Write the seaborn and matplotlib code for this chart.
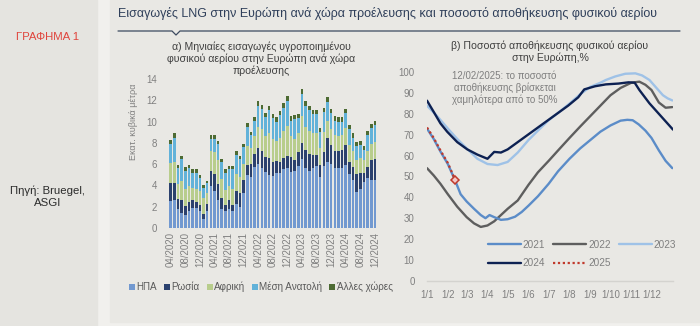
import numpy as np
import pandas as pd
import matplotlib
matplotlib.use("Agg")
import matplotlib.pyplot as plt
from matplotlib.patches import Patch, Rectangle
from matplotlib.lines import Line2D
import seaborn as sns

# ---------------- data: left chart (monthly LNG imports, bcm) ----------------
months = ["04/2020", "05/2020", "06/2020", "07/2020", "08/2020", "09/2020", "10/2020", "11/2020", "12/2020",
          "01/2021", "02/2021", "03/2021", "04/2021", "05/2021", "06/2021", "07/2021", "08/2021", "09/2021",
          "10/2021", "11/2021", "12/2021", "01/2022", "02/2022", "03/2022", "04/2022", "05/2022", "06/2022",
          "07/2022", "08/2022", "09/2022", "10/2022", "11/2022", "12/2022", "01/2023", "02/2023", "03/2023",
          "04/2023", "05/2023", "06/2023", "07/2023", "08/2023", "09/2023", "10/2023", "11/2023", "12/2023",
          "01/2024", "02/2024", "03/2024", "04/2024", "05/2024", "06/2024", "07/2024", "08/2024", "09/2024",
          "10/2024", "11/2024", "12/2024"]
usa = [2.5, 2.6, 1.8, 1.4, 1.2, 1.6, 1.9, 1.9, 1.6, 0.8, 1.6, 3.9, 3.5, 2.6, 1.8, 1.6, 1.8, 1.6, 2.3, 2.0, 3.3,
       5.0, 4.8, 5.7, 6.0, 5.6, 5.3, 5.0, 4.9, 5.2, 5.2, 5.5, 5.6, 5.3, 5.4, 5.8, 6.5, 5.6, 5.4, 5.6, 5.8, 4.8,
       5.8, 6.2, 6.0, 5.6, 5.6, 5.6, 5.9, 5.1, 4.5, 3.4, 3.7, 4.3, 4.7, 4.5, 4.5]
russia = [1.7, 1.6, 0.9, 1.2, 0.9, 0.8, 0.7, 0.5, 0.6, 0.5, 0.7, 1.5, 1.6, 1.5, 1.0, 0.6, 0.8, 0.6, 1.2, 1.3, 1.2,
          0.9, 1.2, 1.3, 1.5, 1.6, 1.4, 1.6, 1.3, 1.1, 1.0, 1.1, 1.2, 1.4, 1.0, 1.3, 1.5, 1.7, 1.6, 1.3, 1.1, 1.1,
          1.3, 2.3, 1.8, 1.6, 1.6, 1.7, 1.9, 1.1, 1.2, 1.7, 1.5, 0.9, 1.0, 1.9, 2.0]
africa = [1.9, 2.0, 1.4, 1.8, 1.6, 1.5, 1.2, 1.3, 1.3, 1.5, 1.0, 1.8, 2.0, 2.3, 1.8, 1.4, 1.3, 1.5, 1.6, 1.5, 1.5,
          1.8, 1.5, 1.6, 2.0, 2.1, 1.9, 2.3, 2.2, 1.9, 2.3, 2.5, 2.8, 1.9, 2.0, 1.8, 2.5, 2.2, 2.1, 2.0, 2.0, 1.6,
          1.9, 1.6, 1.5, 1.5, 1.4, 1.4, 1.6, 1.6, 1.5, 1.3, 1.4, 1.2, 1.5, 1.5, 1.6]
middle_east = [1.8, 2.3, 1.5, 2.05, 1.7, 1.7, 1.4, 1.5, 1.2, 1.0, 0.9, 1.2, 1.3, 1.5, 1.6, 1.6, 1.6, 1.8, 1.8, 1.7,
               1.6, 1.8, 1.2, 1.46, 2.0, 1.86, 1.8, 2.2, 1.9, 1.8, 2.1, 2.2, 2.3, 1.5, 1.8, 1.4, 2.1, 2.0, 2.0, 1.8,
               1.8, 1.5, 1.9, 1.7, 1.5, 1.4, 1.4, 1.3, 1.4, 1.5, 1.3, 1.3, 1.2, 0.9, 1.5, 1.5, 1.6]
others = [0.4, 0.4, 0.3, 0.35, 0.3, 0.3, 0.3, 0.3, 0.3, 0.2, 0.2, 0.3, 0.3, 0.3, 0.3, 0.3, 0.3, 0.3, 0.3, 0.3, 0.3,
          0.4, 0.35, 0.4, 0.4, 0.4, 0.4, 0.4, 0.4, 0.4, 0.4, 0.4, 0.5, 0.4, 0.4, 0.4, 0.5, 0.4, 0.4, 0.4, 0.4, 0.4,
          0.4, 0.5, 0.4, 0.4, 0.4, 0.4, 0.4, 0.4, 0.4, 0.4, 0.4, 0.4, 0.4, 0.4, 0.4]
source_names = ["ΗΠΑ", "Ρωσία", "Αφρική", "Μέση Ανατολή", "Άλλες χώρες"]

# ---------------- data: right chart (storage %, by day of year) ----------------
days_2021 = [0, 10, 20, 31, 42, 50, 59, 70, 80, 87, 93, 100, 110, 120, 131, 141, 151, 165, 181, 195, 212, 228, 243,
             258, 273, 288, 298, 306, 315, 325, 334, 345, 355, 365]
pct_2021 = [73, 68, 62, 56, 48, 41.5, 38, 34.5, 31.5, 30, 31.5, 30.5, 29.2, 29.5, 30.7, 33, 36, 40.5, 46.5, 52.5,
            58.5, 63.5, 67.5, 71.5, 74.5, 76.8, 77.2, 77, 75, 72, 68.5, 62.5, 57.5, 54]
days_2022 = [0, 10, 20, 31, 45, 59, 70, 80, 90, 100, 110, 120, 135, 151, 165, 181, 195, 212, 228, 243, 258, 273,
             288, 304, 316, 325, 334, 345, 355, 365]
pct_2022 = [54, 50.5, 46.5, 41.5, 35.5, 30.5, 27.5, 25.8, 26.5, 28.5, 31.5, 34.5, 38.5, 46, 52, 57.5, 62.5, 68.5,
            74, 79, 84, 89, 92.5, 95, 95.5, 94, 91.5, 85.5, 83, 83.3]
days_2023 = [0, 15, 31, 45, 59, 75, 90, 105, 120, 135, 151, 165, 181, 195, 212, 228, 243, 258, 266, 280, 295, 310,
             320, 331, 340, 351, 358, 365]
pct_2023 = [84, 79, 73, 68, 63.5, 58.5, 56, 55.5, 57, 61.5, 67.5, 72, 77, 80.5, 85, 89.5, 93, 95, 96.3, 98, 99.3,
            99.5, 98.5, 96.3, 93, 89, 87.5, 86.5]
days_2024 = [0, 10, 20, 30, 45, 60, 75, 90, 100, 110, 120, 135, 150, 165, 180, 195, 210, 225, 234, 250, 266, 285,
             300, 309, 316, 331, 341, 351, 366]
pct_2024 = [86.4, 81, 75.5, 71.5, 66.5, 63, 60.5, 58.5, 61.8, 61.5, 63, 66.5, 70, 73.5, 77, 80.5, 84, 88, 91.8,
            93.3, 94.2, 94.6, 95.2, 95, 91.5, 85.1, 81.5, 77.9, 72.5]
days_2025 = [0, 10, 20, 31, 42]
pct_2025 = [73.5, 68.5, 62.5, 56.5, 48.3]

month_ticks_days = [0, 31, 59, 90, 120, 151, 181, 212, 243, 273, 304, 334]
month_ticks_labels = ["1/1", "1/2", "1/3", "1/4", "1/5", "1/6", "1/7", "1/8", "1/9", "1/10", "1/11", "1/12"]

# ---------------- styling ----------------
W, H = 700, 326
sns.set_theme(style="white")
plt.rcParams["font.family"] = ["Liberation Sans", "DejaVu Sans"]

BG = "#e9e8e4"
fig = plt.figure(figsize=(W / 100, H / 100), dpi=100)
fig.patch.set_facecolor("#f1f0ed")


def fx(px):
    return px / W


def fy(py):
    return 1 - py / H


# panels
fig.add_artist(Rectangle((0, fy(326)), fx(97), 1, transform=fig.transFigure, color="#e5e4e0", zorder=0))
fig.add_artist(Rectangle((fx(110), fy(322)), fx(590), fy(0) - fy(322), transform=fig.transFigure,
                         color=BG, zorder=0))

# headings
fig.text(fx(48), fy(37), "ΓΡΑΦΗΜΑ 1", color="#e0443c", fontsize=8.2, ha="center", va="center")
fig.text(fx(48), fy(197), "Πηγή: Bruegel,\nASGI", color="#2b2b2b", fontsize=8.2, ha="center", va="center",
         linespacing=1.25)
fig.text(fx(118), fy(14), "Εισαγωγές LNG στην Ευρώπη ανά χώρα προέλευσης και ποσοστό αποθήκευσης φυσικού αερίου",
         color="#2f3f5a", fontsize=9.0, ha="left", va="center")
fig.add_artist(Line2D([fx(118), fx(172), fx(176), fx(180), fx(680)], [fy(31), fy(31), fy(35), fy(31), fy(31)],
                      transform=fig.transFigure, color="#3c4a60", lw=0.9))

TICKC = "#808080"

# ---------------- left chart ----------------
colors_src = ["#7299d0", "#2b416e", "#b8cd8c", "#62b2d9", "#4d6b33"]
ax1 = fig.add_axes([fx(167.8), fy(228), fx(210), fy(79) - fy(228)])
ax1.set_facecolor(BG)
df = pd.DataFrame({"month": months, "ΗΠΑ": usa, "Ρωσία": russia, "Αφρική": africa,
                   "Μέση Ανατολή": middle_east, "Άλλες χώρες": others})
cum = df[source_names].cumsum(axis=1)
for name, col in reversed(list(zip(source_names, colors_src))):
    sns.barplot(x=df["month"], y=cum[name], color=col, width=0.7, saturation=1, ax=ax1,
                linewidth=0, order=months)
ax1.set_xlim(-0.8, 56.8)
ax1.set_ylim(0, 14)
ax1.set_yticks(range(0, 15, 2))
ax1.set_xticks(range(0, len(months), 4))
ax1.set_xticklabels(months[::4], rotation=90)
ax1.tick_params(axis="both", length=0, labelsize=7, colors=TICKC, pad=3)
ax1.tick_params(axis="y", pad=8)
ax1.set_xlabel("")
ax1.set_ylabel("")
for s in ax1.spines.values():
    s.set_visible(False)
fig.text(fx(261), fy(59), "α) Μηνιαίες εισαγωγές υγροποιημένου\nφυσικού αερίου στην Ευρώπη ανά χώρα\nπροέλευσης",
         fontsize=7.6, color="#404040", ha="center", va="center", linespacing=1.15)
fig.text(fx(133), fy(122), "Εκατ. κυβικά μέτρα", rotation=90, fontsize=6.5, color=TICKC,
         ha="center", va="center")
handles = [Patch(facecolor=c, edgecolor="none") for c in colors_src]
fig.legend(handles, source_names, loc="center", bbox_to_anchor=(fx(261), fy(287)), ncol=5, frameon=False,
           fontsize=7.1, handlelength=0.6, handleheight=0.6, handletextpad=0.15, columnspacing=0.7,
           labelcolor="#595959")

# ---------------- right chart ----------------
ax2 = fig.add_axes([fx(427), fy(280.7), fx(246), fy(72.3) - fy(280.7)])
ax2.set_facecolor(BG)
series = [
    ("2022", days_2022, pct_2022, "#5e5e5e", "-"),
    ("2021", days_2021, pct_2021, "#5b8cc8", "-"),
    ("2023", days_2023, pct_2023, "#9fc2e7", "-"),
    ("2024", days_2024, pct_2024, "#0d2152", "-"),
]
lines = {}
for lab, d, p, c, ls in series:
    sns.lineplot(x=d, y=p, color=c, lw=1.7, ax=ax2, linestyle=ls)
    lines[lab] = Line2D([], [], color=c, lw=1.7)
sns.lineplot(x=days_2025, y=pct_2025, color="#c0392b", lw=1.6, ax=ax2, linestyle=(0, (1, 1.2)))
ax2.plot([days_2025[-1]], [pct_2025[-1]], marker="D", ms=4, mfc="#f3c8c8", mec="#c0392b", mew=1.1, ls="none")
lines["2025"] = Line2D([], [], color="#c0392b", lw=1.6, linestyle=(0, (1, 1.2)))

ax2.set_xlim(0, 366)
ax2.set_ylim(0, 100)
ax2.set_yticks(range(0, 101, 10))
ax2.set_xticks(month_ticks_days)
ax2.set_xticklabels(month_ticks_labels)
ax2.tick_params(axis="both", length=0, labelsize=7, colors=TICKC)
ax2.tick_params(axis="y", pad=9)
ax2.tick_params(axis="x", pad=7)
for k, s in ax2.spines.items():
    s.set_visible(k == "bottom")
ax2.spines["bottom"].set_color("#d4d3cf")
ax2.spines["bottom"].set_linewidth(1.0)
ax2.set_title("β) Ποσοστό αποθήκευσης φυσικού αερίου\nστην Ευρώπη,%", fontsize=7.6, color="#404040", pad=8,
              linespacing=1.2)
ax2.text(0.315, 0.925, "12/02/2025: το ποσοστό\nαποθήκευσης βρίσκεται\nχαμηλότερα από το 50%",
         transform=ax2.transAxes, ha="center", va="center", fontsize=7, color="#7f7f7f", linespacing=1.15)
order = ["2021", "2024", "2022", "2025", "2023"]
ax2.legend([lines[k] for k in order], order, ncol=3, frameon=False, fontsize=7.2, labelcolor="#7f7f7f",
           loc="center", bbox_to_anchor=((582 - 427) / 246, (280.7 - 254) / 208.4), handlelength=3.3,
           handletextpad=0.2, columnspacing=0.8, labelspacing=0.9)

fig.savefig("out.png", dpi=100, facecolor=fig.get_facecolor())
